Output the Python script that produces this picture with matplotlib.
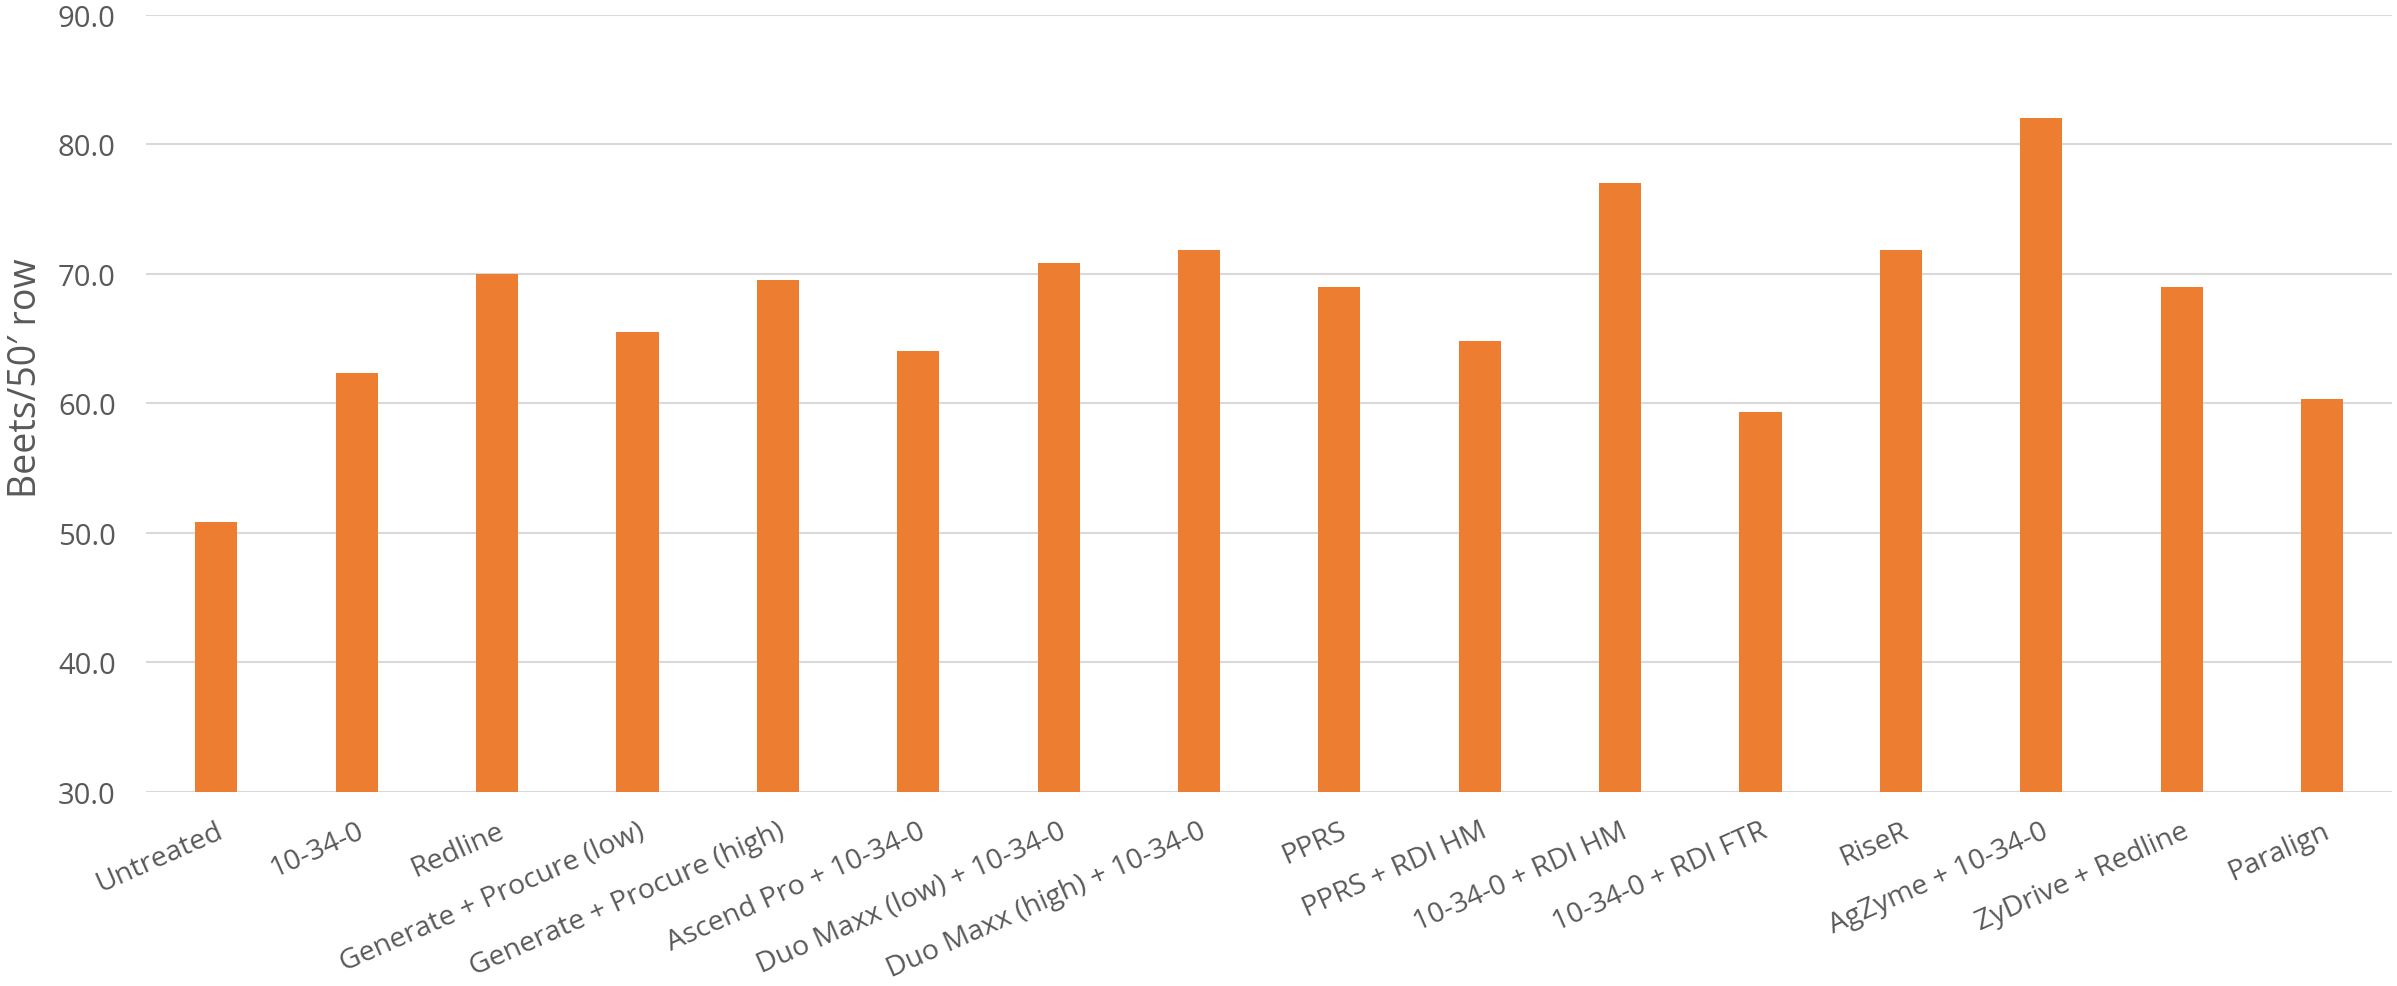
import matplotlib.pyplot as plt
import matplotlib
import numpy as np

# treatment names and beet counts per 50' of row
treatments = ['Untreated', '10-34-0', 'Redline', 'Generate + Procure (low)',
              'Generate + Procure (high)', 'Ascend Pro + 10-34-0',
              'Duo Maxx (low) + 10-34-0', 'Duo Maxx (high) + 10-34-0', 'PPRS',
              'PPRS + RDI HM', '10-34-0 + RDI HM', '10-34-0 + RDI FTR', 'RiseR',
              'AgZyme + 10-34-0', 'ZyDrive + Redline', 'Paralign']
beets = [50.8, 62.3, 70.0, 65.5, 69.5, 64.0, 70.8, 71.8, 69.0,
         64.8, 77.0, 59.3, 71.8, 82.0, 69.0, 60.3]
yticks = [30, 40, 50, 60, 70, 80, 90]

matplotlib.rcParams.update({'font.family': ['Open Sans', 'DejaVu Sans'],
                            'font.size': 20.5})
grey = '#595959'


def main():
    fig = plt.figure(figsize=(23.97, 9.87), dpi=100)
    ax = fig.add_axes([0.061, 0.197, 0.937, 0.787])

    x = np.arange(len(treatments))
    ax.bar(x, beets, width=0.3, color='#ED7D31', zorder=3)

    ax.set_xlim(-0.5, len(treatments) - 0.5)
    ax.set_ylim(30, 90)
    ax.set_yticks(yticks)
    ax.set_yticklabels(['%.1f' % v for v in yticks], color=grey, fontsize=21)
    ax.yaxis.grid(True, color='#d9d9d9', lw=1.5, zorder=0)
    ax.set_axisbelow(True)
    ax.tick_params(axis='x', length=0, pad=18)
    ax.tick_params(axis='y', length=0, pad=22)

    ax.set_xticks(x)
    ax.set_xticklabels(treatments, rotation=24, ha='right',
                       rotation_mode='anchor', color=grey)
    for s in ax.spines.values():
        s.set_visible(False)

    ax.set_ylabel("Beets/50\u2032 row", color=grey, fontsize=27)
    ax.yaxis.set_label_coords(-0.045, 0.533)

    fig.savefig('out.png', dpi=100)


if __name__ == "__main__":
    main()
